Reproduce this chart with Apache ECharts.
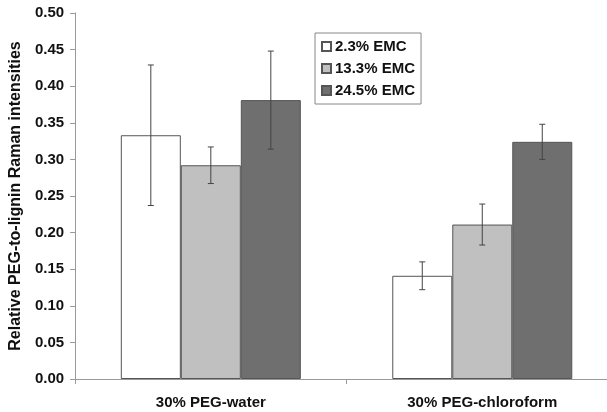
<!DOCTYPE html>
<html><head><meta charset="utf-8">
<script src="https://cdn.jsdelivr.net/npm/echarts@6/dist/echarts.min.js"></script>
<style>html,body{margin:0;padding:0;background:#fff;overflow:hidden;width:607px;height:412px}#c{width:618px;height:412px}</style>
</head><body><div id="c"></div>
<script>
const categories = ['30% PEG-water', '30% PEG-chloroform'];
const seriesNames = ['2.3% EMC', '13.3% EMC', '24.5% EMC'];
const emc23 = [0.333, 0.141];
const emc133 = [0.292, 0.211];
const emc245 = [0.381, 0.324];
const err23 = [0.096, 0.019];
const err133 = [0.025, 0.028];
const err245 = [0.067, 0.024];
const yTicks = [0, 0.05, 0.10, 0.15, 0.20, 0.25, 0.30, 0.35, 0.40, 0.45, 0.50];

const values = [emc23, emc133, emc245];
const errors = [err23, err133, err245];
const colors = ['#ffffff', '#c0c0c0', '#6f6f6f'];
const BW = 60;
const font = 'Liberation Sans, Arial, sans-serif';

const chart = echarts.init(document.getElementById('c'));
const series = [];
values.forEach((v, i) => {
  series.push({
    name: seriesNames[i], type: 'bar', data: v, barWidth: BW, barGap: '0%',
    itemStyle: { color: colors[i], borderColor: '#555', borderWidth: 1 },
    emphasis: { disabled: true }
  });
});
values.forEach((v, i) => {
  series.push({
    type: 'custom', silent: true, z: 10,
    data: v.map((val, k) => [k, val, errors[i][k]]),
    renderItem: function (params, api) {
      const k = api.value(0), val = api.value(1), e = api.value(2);
      const off = (i - 1) * BW;
      const top = api.coord([k, val + e]);
      const bot = api.coord([k, val - e]);
      const x = top[0] + off;
      const cap = 3;
      const st = { stroke: '#444', lineWidth: 1 };
      return { type: 'group', children: [
        { type: 'line', shape: { x1: x, y1: top[1], x2: x, y2: bot[1] }, style: st },
        { type: 'line', shape: { x1: x - cap, y1: top[1], x2: x + cap, y2: top[1] }, style: st },
        { type: 'line', shape: { x1: x - cap, y1: bot[1], x2: x + cap, y2: bot[1] }, style: st }
      ]};
    }
  });
});

chart.setOption({
  animation: false,
  backgroundColor: '#fff',
  grid: { left: 74, top: 13, right: 0, bottom: 33 },
  legend: {
    data: seriesNames, orient: 'vertical', left: 315, top: 33,
    backgroundColor: '#fff', borderColor: '#888', borderWidth: 1,
    padding: [6, 6, 6, 6], itemGap: 7, itemWidth: 9, itemHeight: 9, icon: 'rect',
    textStyle: { fontFamily: font, fontWeight: 'bold', fontSize: 15, color: '#111', padding: [0, 0, 0, -1] }
  },
  xAxis: {
    type: 'category', data: categories,
    axisLine: { lineStyle: { color: '#999', width: 1 } },
    axisTick: { show: true, length: 5, lineStyle: { color: '#999' } },
    axisLabel: { margin: 16, fontFamily: font, fontWeight: 'bold', fontSize: 15, color: '#111' }
  },
  yAxis: {
    type: 'value', min: 0, max: 0.5, interval: 0.05,
    name: 'Relative PEG-to-lignin Raman intensities', nameLocation: 'middle', nameGap: 48,
    nameTextStyle: { fontFamily: font, fontWeight: 'bold', fontSize: 16, color: '#111' },
    axisLine: { show: true, lineStyle: { color: '#999' } },
    axisTick: { show: true, length: 5, lineStyle: { color: '#999' } },
    splitLine: { show: false },
    axisLabel: { margin: 11, fontFamily: font, fontWeight: 'bold', fontSize: 15, color: '#111',
      formatter: v => yTicks.find(t => Math.abs(t - v) < 1e-9).toFixed(2) }
  },
  series: series
});
</script></body></html>
